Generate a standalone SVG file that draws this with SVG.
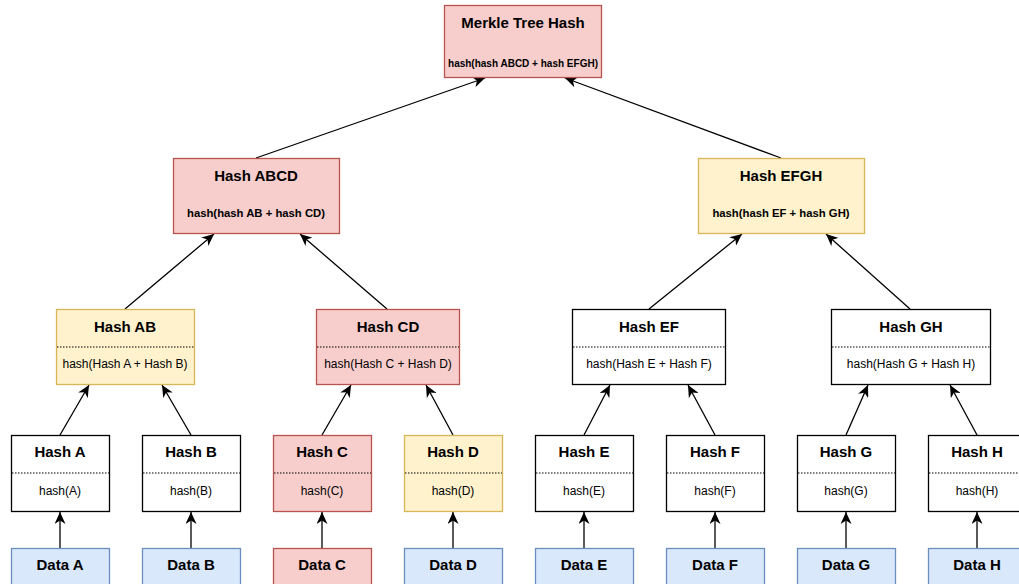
<svg xmlns="http://www.w3.org/2000/svg" width="1019" height="584" viewBox="0 0 1019 584">
<style>
text{font-family:"Liberation Sans",Arial,sans-serif;text-anchor:middle;fill:#000}
.t{font-size:15px;font-weight:bold}
.s{font-size:10px;font-weight:bold}
.s2{font-size:11.3px;font-weight:bold}
.n{font-size:12px}
.box{stroke-width:1.3}
.pink{fill:#f8cecc;stroke:#b85450}
.yel{fill:#fff2cc;stroke:#d6b656}
.wht{fill:#ffffff;stroke:#000000}
.blue{fill:#dae8fc;stroke:#6c8ebf}
.dot{stroke:#000;stroke-width:1;stroke-dasharray:1.5 1.5;fill:none}
.c line{stroke:#000;stroke-width:1.3;marker-end:url(#arr)}
</style>
<defs>
<marker id="arr" markerUnits="userSpaceOnUse" markerWidth="13" markerHeight="11" refX="12" refY="5.5" orient="auto">
<path d="M0,0 L12,5.5 L0,11 L3.5,5.5 z" fill="#000"/>
</marker>
</defs>
<rect width="1019" height="584" fill="#fff"/>

<g class="c" id="connectors">
<line x1="256" y1="158" x2="485" y2="78"/>
<line x1="781" y1="158" x2="565" y2="78"/>
<line x1="125" y1="309" x2="214" y2="234"/>
<line x1="387" y1="309" x2="300" y2="234"/>
<line x1="649" y1="309" x2="742" y2="234"/>
<line x1="910" y1="309" x2="826" y2="234"/>
<line x1="60" y1="435" x2="89" y2="385"/>
<line x1="191" y1="435" x2="162" y2="385"/>
<line x1="322" y1="435" x2="351" y2="385"/>
<line x1="453" y1="435" x2="426" y2="385"/>
<line x1="584" y1="435" x2="610" y2="385"/>
<line x1="715" y1="435" x2="688" y2="385"/>
<line x1="846" y1="435" x2="868" y2="385"/>
<line x1="977" y1="435" x2="950" y2="385"/>
<line x1="60" y1="548" x2="60" y2="512"/>
<line x1="191" y1="548" x2="191" y2="512"/>
<line x1="322" y1="548" x2="322" y2="512"/>
<line x1="453" y1="548" x2="453" y2="512"/>
<line x1="584" y1="548" x2="584" y2="512"/>
<line x1="715" y1="548" x2="715" y2="512"/>
<line x1="846" y1="548" x2="846" y2="512"/>
<line x1="977" y1="548" x2="977" y2="512"/>
</g>

<g id="merkle">
<rect class="box pink" x="444.5" y="5.5" width="157" height="72"/>
<text class="t" x="523" y="28">Merkle Tree Hash</text>
<text class="s" x="523" y="67">hash(hash ABCD + hash EFGH)</text>
</g>

<g id="hashABCD">
<rect class="box pink" x="173.5" y="158.5" width="166" height="75"/>
<text class="t" x="256" y="181">Hash ABCD</text>
<text class="s2" x="256" y="217">hash(hash AB + hash CD)</text>
</g>
<g id="hashEFGH">
<rect class="box yel" x="698.5" y="158.5" width="166" height="75"/>
<text class="t" x="781" y="181">Hash EFGH</text>
<text class="s2" x="781" y="217">hash(hash EF + hash GH)</text>
</g>

<g id="hashAB">
<rect class="box yel" x="56.5" y="309.5" width="138" height="75"/>
<line class="dot" x1="57" y1="347" x2="194" y2="347"/>
<text class="t" x="125" y="332">Hash AB</text>
<text class="n" x="125" y="368">hash(Hash A + Hash B)</text>
</g>
<g id="hashCD">
<rect class="box pink" x="316.5" y="309.5" width="143" height="75"/>
<line class="dot" x1="317" y1="347" x2="459" y2="347"/>
<text class="t" x="388" y="332">Hash CD</text>
<text class="n" x="388" y="368">hash(Hash C + Hash D)</text>
</g>
<g id="hashEF">
<rect class="box wht" x="572.5" y="309.5" width="153" height="75"/>
<line class="dot" x1="573" y1="347" x2="725" y2="347"/>
<text class="t" x="649" y="332">Hash EF</text>
<text class="n" x="649" y="368">hash(Hash E + Hash F)</text>
</g>
<g id="hashGH">
<rect class="box wht" x="831.5" y="309.5" width="159" height="75"/>
<line class="dot" x1="832" y1="347" x2="990" y2="347"/>
<text class="t" x="911" y="332">Hash GH</text>
<text class="n" x="911" y="368">hash(Hash G + Hash H)</text>
</g>

<g id="hashA">
<rect class="box wht" x="11.5" y="435.5" width="98" height="76"/>
<line class="dot" x1="12" y1="473" x2="109" y2="473"/>
<text class="t" x="60" y="457">Hash A</text>
<text class="n" x="60" y="495">hash(A)</text>
</g>
<g id="hashB">
<rect class="box wht" x="142.5" y="435.5" width="98" height="76"/>
<line class="dot" x1="143" y1="473" x2="240" y2="473"/>
<text class="t" x="191" y="457">Hash B</text>
<text class="n" x="191" y="495">hash(B)</text>
</g>
<g id="hashC">
<rect class="box pink" x="273.5" y="435.5" width="98" height="76"/>
<line class="dot" x1="274" y1="473" x2="371" y2="473"/>
<text class="t" x="322" y="457">Hash C</text>
<text class="n" x="322" y="495">hash(C)</text>
</g>
<g id="hashD">
<rect class="box yel" x="404.5" y="435.5" width="98" height="76"/>
<line class="dot" x1="405" y1="473" x2="502" y2="473"/>
<text class="t" x="453" y="457">Hash D</text>
<text class="n" x="453" y="495">hash(D)</text>
</g>
<g id="hashE">
<rect class="box wht" x="535.5" y="435.5" width="98" height="76"/>
<line class="dot" x1="536" y1="473" x2="633" y2="473"/>
<text class="t" x="584" y="457">Hash E</text>
<text class="n" x="584" y="495">hash(E)</text>
</g>
<g id="hashF">
<rect class="box wht" x="666.5" y="435.5" width="98" height="76"/>
<line class="dot" x1="667" y1="473" x2="764" y2="473"/>
<text class="t" x="715" y="457">Hash F</text>
<text class="n" x="715" y="495">hash(F)</text>
</g>
<g id="hashG">
<rect class="box wht" x="797.5" y="435.5" width="98" height="76"/>
<line class="dot" x1="798" y1="473" x2="895" y2="473"/>
<text class="t" x="846" y="457">Hash G</text>
<text class="n" x="846" y="495">hash(G)</text>
</g>
<g id="hashH">
<rect class="box wht" x="928.5" y="435.5" width="98" height="76"/>
<line class="dot" x1="929" y1="473" x2="1026" y2="473"/>
<text class="t" x="977" y="457">Hash H</text>
<text class="n" x="977" y="495">hash(H)</text>
</g>

<g id="dataA"><rect class="box blue" x="11.5" y="548.5" width="98" height="50"/><text class="t" x="60" y="570">Data A</text></g>
<g id="dataB"><rect class="box blue" x="142.5" y="548.5" width="98" height="50"/><text class="t" x="191" y="570">Data B</text></g>
<g id="dataC"><rect class="box pink" x="273.5" y="548.5" width="98" height="50"/><text class="t" x="322" y="570">Data C</text></g>
<g id="dataD"><rect class="box blue" x="404.5" y="548.5" width="98" height="50"/><text class="t" x="453" y="570">Data D</text></g>
<g id="dataE"><rect class="box blue" x="535.5" y="548.5" width="98" height="50"/><text class="t" x="584" y="570">Data E</text></g>
<g id="dataF"><rect class="box blue" x="666.5" y="548.5" width="98" height="50"/><text class="t" x="715" y="570">Data F</text></g>
<g id="dataG"><rect class="box blue" x="797.5" y="548.5" width="98" height="50"/><text class="t" x="846" y="570">Data G</text></g>
<g id="dataH"><rect class="box blue" x="928.5" y="548.5" width="98" height="50"/><text class="t" x="977" y="570">Data H</text></g>
</svg>
